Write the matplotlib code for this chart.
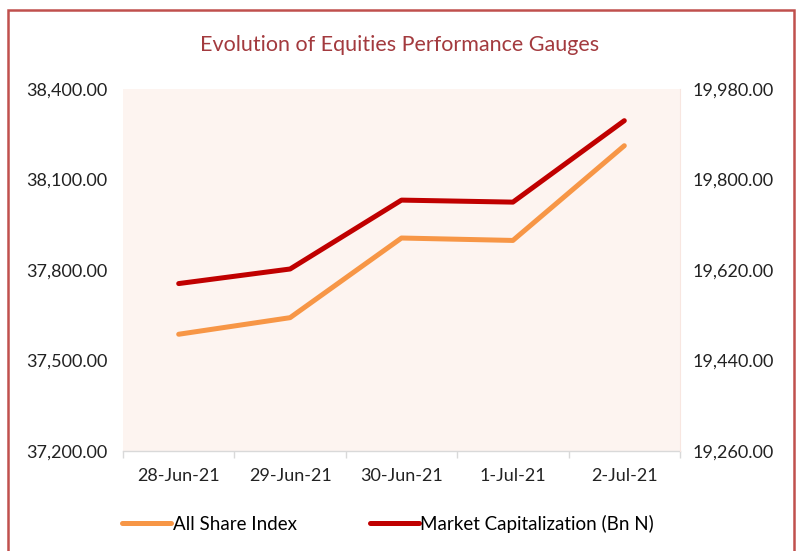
import matplotlib
matplotlib.use("Agg")
import matplotlib.pyplot as plt
from matplotlib.patches import Rectangle
from matplotlib.lines import Line2D
from matplotlib.ticker import FuncFormatter

plt.rcParams['font.family'] = ['Lato', 'DejaVu Sans']

# data
dates = ['28-Jun-21', '29-Jun-21', '30-Jun-21', '1-Jul-21', '2-Jul-21']
asi = [37587, 37642, 37906, 37898, 38212]
mcap = [19593, 19622, 19759, 19755, 19917]
left_ticks = [37200, 37500, 37800, 38100, 38400]
right_ticks = [19260, 19440, 19620, 19800, 19980]

orange = '#F79646'
red = '#C00000'

fig = plt.figure(figsize=(7.98, 5.51), dpi=100)
ax = fig.add_axes([123/798, 100/551, 557/798, 362/551])
ax2 = ax.twinx()

ax.set_facecolor('#FDF4F0')
x = list(range(len(dates)))
ax.plot(x, asi, color=orange, lw=3.6, solid_capstyle='round', zorder=3)
ax2.plot(x, mcap, color=red, lw=3.6, solid_capstyle='round', zorder=3)

ax.set_xlim(-0.5, len(dates) - 0.5)
ax.set_ylim(left_ticks[0], left_ticks[-1])
ax2.set_ylim(right_ticks[0], right_ticks[-1])
ax.set_yticks(left_ticks)
ax2.set_yticks(right_ticks)
fmt = FuncFormatter(lambda v, p: f'{v:,.2f}')
ax.yaxis.set_major_formatter(fmt)
ax2.yaxis.set_major_formatter(fmt)

ax.set_xticks(x)
ax.set_xticklabels(dates)
ax.set_xticks([i - 0.5 for i in range(len(dates) + 1)], minor=True)
ax.tick_params(axis='x', which='major', length=0, pad=12, labelsize=13, labelcolor='#222222')
ax.tick_params(axis='x', which='minor', length=5, color='#D9D9D9', width=1)
ax.tick_params(axis='y', length=0, pad=11, labelsize=13, labelcolor='#222222')
ax2.tick_params(axis='y', length=0, pad=9, labelsize=13, labelcolor='#222222')

for a in (ax, ax2):
    for s in a.spines.values():
        s.set_visible(False)
ax.spines['bottom'].set_visible(True)
ax.spines['bottom'].set_color('#D9D9D9')
ax.spines['bottom'].set_linewidth(1)
ax2.spines['right'].set_visible(True)
ax2.spines['right'].set_color('#F8E6E0')

fig.text(400/798, 1 - 45/551, 'Evolution of Equities Performance Gauges',
         ha='center', va='center', fontsize=15.5, color='#A33A3E')

# outer frame
fig.patches.append(Rectangle((8/798, -0.05), 786/798, 1.05 - 10/551,
                             transform=fig.transFigure, fill=False,
                             edgecolor='#C0504D', lw=1.8))

handles = [Line2D([], [], color=orange, lw=3.6, solid_capstyle='round'),
           Line2D([], [], color=red, lw=3.6, solid_capstyle='round')]
fig.legend(handles, ['All Share Index', 'Market Capitalization (Bn N)'],
           loc='center left', bbox_to_anchor=(122/798, 1 - 524/551), ncol=2,
           frameon=False, fontsize=13.5, handlelength=2.6, handletextpad=0.1,
           columnspacing=3.9, borderpad=0, borderaxespad=0)

fig.savefig('out.png', dpi=100)
